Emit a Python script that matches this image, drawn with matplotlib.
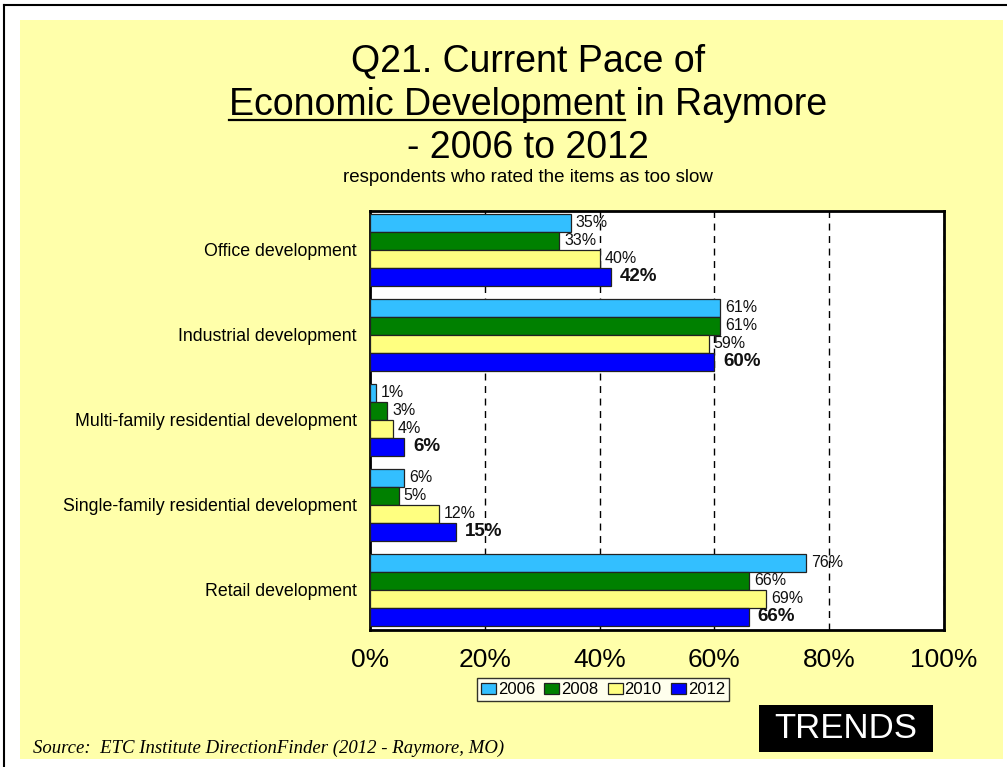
import matplotlib
matplotlib.use("Agg")
import matplotlib.pyplot as plt
import numpy as np
from matplotlib.patches import Rectangle
from matplotlib.lines import Line2D

plt.rcParams['font.family'] = ['Liberation Sans', 'DejaVu Sans']

# survey items, top to bottom
categories = ["Office development",
              "Industrial development",
              "Multi-family residential development",
              "Single-family residential development",
              "Retail development"]
years = ["2006", "2008", "2010", "2012"]

# percent of respondents who rated each item as too slow
pct_2006 = [35, 61, 1, 6, 76]
pct_2008 = [33, 61, 3, 5, 66]
pct_2010 = [40, 59, 4, 12, 69]
pct_2012 = [42, 60, 6, 15, 66]
series = [pct_2006, pct_2008, pct_2010, pct_2012]

colors = ["#33BFFF", "#008000", "#FFFF80", "#0000FF"]
xticks = [0, 20, 40, 60, 80, 100]
xtick_labels = ["0%", "20%", "40%", "60%", "80%", "100%"]

W, H = 1007, 767
fig = plt.figure(figsize=(W / 100, H / 100), dpi=100, facecolor="white")

# pale yellow panel plus the thin black frame on the top and left
fig.patches.append(Rectangle((20 / W, 1 - 759 / H), 983 / W, 739 / H,
                             transform=fig.transFigure, facecolor="#FFFFAA",
                             edgecolor="none", zorder=-1))
fig.lines.append(Line2D([4 / W, 1], [1 - 5 / H, 1 - 5 / H], transform=fig.transFigure,
                        color="black", lw=1.5))
fig.lines.append(Line2D([4 / W, 4 / W], [0, 1 - 5 / H], transform=fig.transFigure,
                        color="black", lw=1.5))

ax = fig.add_axes([370 / W, 1 - 630 / H, 574 / W, 419 / H])
ax.set_facecolor("white")

h = 0.212
y = np.arange(len(categories))
bars = []
for j, (vals, col) in enumerate(zip(series, colors)):
    pos = y + (j - 1.5) * h
    b = ax.barh(pos, vals, height=h, color=col, edgecolor="#222222", lw=0.9,
                label=years[j], zorder=3)
    bars.append(b)
    bold = j == len(series) - 1
    for p, v in zip(pos, vals):
        ax.annotate(f"{v}%", (v, p), xytext=(6.2 if bold else 3.6, 0),
                    textcoords="offset points", va="center", ha="left",
                    fontsize=13.5 if bold else 11.5,
                    fontweight="bold" if bold else "normal", color="#111111")

ax.set_xlim(0, 100)
ax.set_ylim(4.476, -0.454)
ax.set_xticks(xticks)
ax.set_xticklabels(xtick_labels, fontsize=19)
ax.set_yticks(y)
ax.set_yticklabels(categories, fontsize=12.8)
ax.tick_params(axis="x", length=0, pad=13)
ax.tick_params(axis="y", length=0, pad=9.4)
ax.xaxis.grid(True, linestyle=(0, (5, 4)), color="black", lw=1)
ax.set_axisbelow(True)
for s in ax.spines.values():
    s.set_linewidth(2)
    s.set_color("black")

leg = fig.legend(handles=bars, labels=years, loc="upper center",
                 bbox_to_anchor=(603 / W, 1 - 678 / H), ncol=4, fontsize=12,
                 frameon=True, fancybox=False, edgecolor="black",
                 borderaxespad=0, borderpad=0.25, handlelength=0.9,
                 handleheight=0.65, handletextpad=0.12, columnspacing=0.55)
leg.get_frame().set_linewidth(1)
leg.get_frame().set_facecolor("white")

# title block
cx = 528 / W
fig.text(cx, 1 - 72 / H, "Q21. Current Pace of", ha="center", va="baseline", fontsize=27)
line2 = fig.text(cx, 1 - 115 / H, "Economic Development in Raymore", ha="center",
                 va="baseline", fontsize=27)
fig.text(cx, 1 - 158 / H, "- 2006 to 2012", ha="center", va="baseline", fontsize=27)
fig.text(cx, 1 - 182 / H, "respondents who rated the items as too slow", ha="center",
         va="baseline", fontsize=13.5)

# underline the first part of the second title line
r = fig.canvas.get_renderer()
full = line2.get_window_extent(r)
tmp = fig.text(0, 0, "Economic Development", fontsize=27)
wpart = tmp.get_window_extent(r).width
tmp.remove()
uy = 1 - 120 / H
fig.lines.append(Line2D([full.x0 / W, (full.x0 + wpart) / W], [uy, uy],
                        transform=fig.transFigure, color="black", lw=1.6))

# source note and trend tag
fig.text(33 / W, 1 - 753 / H, "Source:  ETC Institute DirectionFinder (2012 - Raymore, MO)",
         family=["Liberation Serif", "DejaVu Serif"], style="italic", fontsize=13.5,
         va="baseline", ha="left")
fig.patches.append(Rectangle((759 / W, 1 - 752 / H), 174 / W, 47 / H,
                             transform=fig.transFigure, facecolor="black",
                             edgecolor="none"))
fig.text(846 / W, 1 - 728.5 / H, "TRENDS", color="white", fontsize=25,
         ha="center", va="center")

fig.savefig("out.png", dpi=100)
